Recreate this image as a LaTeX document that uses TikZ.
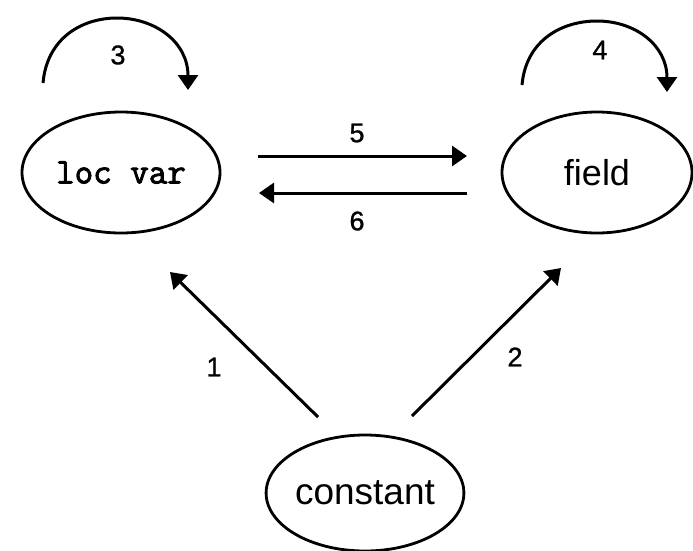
\documentclass[tikz,border=0pt]{standalone}
\usepackage{fontspec}
\setmainfont{Liberation Sans}
\newfontfamily\codefont{Latin Modern Mono}[FakeBold=2.5]
\newfontfamily\numfont{Liberation Sans}[FakeBold=1]
\usetikzlibrary{shapes.geometric,arrows.meta}

\begin{document}
\begin{tikzpicture}[x=1pt,y=-1pt,
  state/.style={draw,ellipse,line width=2.8pt,inner sep=0pt},
  link/.style={line width=3pt,-{Triangle[length=15pt,width=20pt]}},
  num/.style={font=\numfont\fontsize{27}{30}\selectfont}]
\useasboundingbox (0,0) rectangle (693,550);

% the three states
\node[state,minimum width=198pt,minimum height=121pt] (locvar) at (121,172.5)
  {\codefont\fontsize{36}{40}\selectfont loc var};
\node[state,minimum width=190pt,minimum height=121pt] (field) at (597,172.5)
  {\fontsize{36}{40}\selectfont field};
\node[state,minimum width=196pt,minimum height=116pt] (constant) at (365,493)
  {\fontsize{37}{40}\selectfont constant};

% end points of the straight connectors
\coordinate (c1s) at (318,417);  \coordinate (c1e) at (170,272);
\coordinate (c2s) at (412,416);  \coordinate (c2e) at (561,268);
\coordinate (c5s) at (258,156);  \coordinate (c5e) at (467,156);
\coordinate (c6s) at (467,193);  \coordinate (c6e) at (259,193);

\draw[link] (c1s) -- (c1e);
\draw[link] (c2s) -- (c2e);
\draw[link] (c5s) -- (c5e);
\draw[link] (c6s) -- (c6e);

% self loops above the upper states
\coordinate (l3s) at (43,83);  \coordinate (l3e) at (188,90);
\coordinate (l4s) at (522,85); \coordinate (l4e) at (667,92);
\draw[link] (l3s) .. controls (47,38) and (82,18) .. (117,18)
                  .. controls (155,18) and (188,42) .. (l3e);
\draw[link] (l4s) .. controls (526,40) and (562,21) .. (597,21)
                  .. controls (635,21) and (667,45) .. (l4e);

% connector numbers
\node[num] (n1) at (214,367) {1};
\node[num] (n2) at (515,357) {2};
\node[num] (n3) at (118,55) {3};
\node[num] (n4) at (600,50) {4};
\node[num] (n5) at (357,133) {5};
\node[num] (n6) at (357,221) {6};
\end{tikzpicture}
\end{document}
